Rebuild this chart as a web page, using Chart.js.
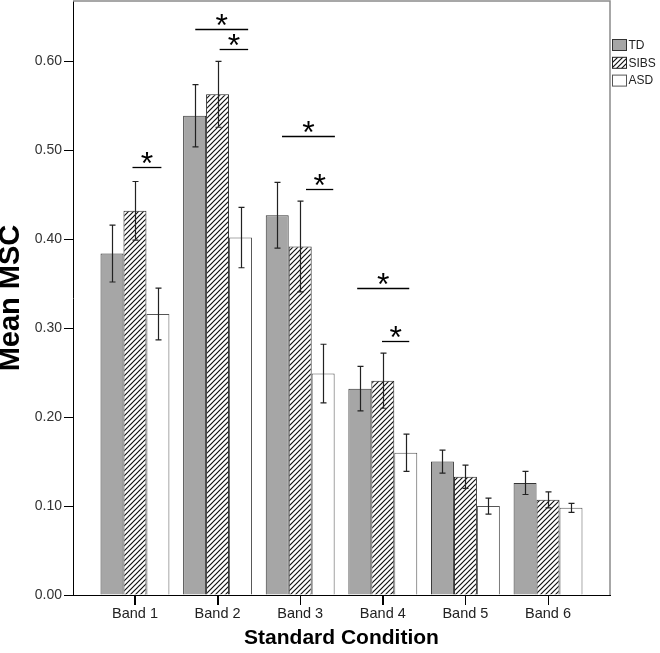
<!DOCTYPE html>
<html><head><meta charset="utf-8">
<style>html,body{margin:0;padding:0;background:#fff;}</style>
<script src="https://cdn.jsdelivr.net/npm/chart.js@4.4.1/dist/chart.umd.min.js"></script>
</head><body>
<canvas id="c" width="660" height="653"></canvas>
<script>
// ---------- data ----------
const categories = ['Band 1', 'Band 2', 'Band 3', 'Band 4', 'Band 5', 'Band 6'];
const seriesNames = ['TD', 'SIBS', 'ASD'];
const tdMean   = [0.384, 0.539, 0.427, 0.232, 0.150, 0.126];
const tdErr    = [0.032, 0.035, 0.037, 0.025, 0.013, 0.013];
const sibsMean = [0.432, 0.563, 0.392, 0.241, 0.133, 0.107];
const sibsErr  = [0.033, 0.037, 0.051, 0.031, 0.013, 0.009];
const asdMean  = [0.316, 0.402, 0.249, 0.160, 0.100, 0.098];
const asdErr   = [0.029, 0.034, 0.033, 0.021, 0.009, 0.005];
const yTickValues = [0.0, 0.1, 0.2, 0.3, 0.4, 0.5, 0.6];
const yTickLabels = ['0.00', '0.10', '0.20', '0.30', '0.40', '0.50', '0.60'];
// significance brackets: band index, start/end (in band units relative to band centre), level
const sigBand  = [0, 1, 1, 2, 2, 3, 3];
const sigFrom  = [-0.03, -0.27, 0.025, -0.22, 0.07, -0.31, -0.01];
const sigTo    = [0.32, 0.37, 0.37, 0.42, 0.40, 0.32, 0.32];
const sigLevel = [0.481, 0.637, 0.6145, 0.516, 0.457, 0.345, 0.286];
const sigMark  = '*';

// ---------- styles ----------
const FONT = "'Liberation Sans', Arial, sans-serif";
function hatchPattern() {
  const s = 5;
  const c = document.createElement('canvas');
  c.width = s; c.height = s;
  const g = c.getContext('2d');
  g.fillStyle = '#ffffff'; g.fillRect(0, 0, s, s);
  g.strokeStyle = '#111'; g.lineWidth = 1.2;
  g.beginPath();
  g.moveTo(0, s); g.lineTo(s, 0);
  g.moveTo(-1, 1); g.lineTo(1, -1);
  g.moveTo(s - 1, s + 1); g.lineTo(s + 1, s - 1);
  g.stroke();
  return document.getElementById('c').getContext('2d').createPattern(c, 'repeat');
}
const hatch = hatchPattern();
const fills = ['#a6a6a6', hatch, '#ffffff'];
const borders = ['#333333', '#222222', '#555555'];
const means = [tdMean, sibsMean, asdMean];
const errs = [tdErr, sibsErr, asdErr];

const datasets = seriesNames.map((name, i) => ({
  label: name,
  data: means[i].map((v, k) => ({ x: k + 1, y: v })),
  errors: errs[i],
  backgroundColor: fills[i],
  borderColor: borders[i],
  borderWidth: 1,
  borderSkipped: 'bottom',
  barPercentage: 1.0,
  categoryPercentage: 0.834,
}));

// ---------- plugins ----------
function drawXTicks(chart) {
  const ctx = chart.ctx, a = chart.chartArea, xs = chart.scales.x;
  ctx.save();
  ctx.fillStyle = '#000';
  for (let i = 0; i < categories.length; i++) {
    const px = Math.round(xs.getPixelForValue(i + 1));
    ctx.fillRect(px, Math.round(a.bottom), 1, 10);
  }
  ctx.restore();
}

const errorBars = {
  id: 'errorBars',
  afterDatasetsDraw(chart) {
    const ctx = chart.ctx, y = chart.scales.y;
    ctx.save();
    ctx.strokeStyle = '#222'; ctx.lineWidth = 1.2;
    chart.data.datasets.forEach((ds, di) => {
      const meta = chart.getDatasetMeta(di);
      meta.data.forEach((bar, k) => {
        const m = ds.data[k].y, e = ds.errors[k];
        const x = Math.round(bar.x) + 0.5;
        const yt = y.getPixelForValue(m + e), yb = y.getPixelForValue(m - e);
        ctx.beginPath();
        ctx.moveTo(x, yt); ctx.lineTo(x, yb);
        ctx.moveTo(x - 3, yt); ctx.lineTo(x + 3, yt);
        ctx.moveTo(x - 3, yb); ctx.lineTo(x + 3, yb);
        ctx.stroke();
      });
    });
    ctx.restore();
    drawXTicks(chart);
  }
};

const significance = {
  id: 'significance',
  afterDatasetsDraw(chart) {
    const ctx = chart.ctx, xs = chart.scales.x, ys = chart.scales.y;
    ctx.save();
    ctx.strokeStyle = '#000'; ctx.fillStyle = '#000'; ctx.lineWidth = 1.3;
    ctx.font = '32px ' + FONT;
    ctx.textAlign = 'center'; ctx.textBaseline = 'alphabetic';
    const mt = ctx.measureText(sigMark);
    const glyphMid = (mt.actualBoundingBoxAscent - mt.actualBoundingBoxDescent) / 2;
    sigBand.forEach((b, i) => {
      const x1 = xs.getPixelForValue(b + 1 + sigFrom[i]);
      const x2 = xs.getPixelForValue(b + 1 + sigTo[i]);
      const yy = Math.round(ys.getPixelForValue(sigLevel[i])) + 0.5;
      ctx.beginPath(); ctx.moveTo(x1, yy); ctx.lineTo(x2, yy); ctx.stroke();
      ctx.fillText(sigMark, (x1 + x2) / 2, yy - 9.5 + glyphMid);
    });
    ctx.restore();
  }
};

const frame = {
  id: 'frame',
  afterDraw(chart) {
    const ctx = chart.ctx, a = chart.chartArea;
    drawXTicks(chart);
    ctx.save();
    ctx.strokeStyle = '#8a8a8a'; ctx.lineWidth = 1.5;
    ctx.beginPath();
    ctx.moveTo(a.left, a.top); ctx.lineTo(a.right, a.top); ctx.lineTo(a.right, a.bottom);
    ctx.stroke();
    // legend
    ctx.font = '12px ' + FONT;
    ctx.textAlign = 'left'; ctx.textBaseline = 'middle';
    chart.data.datasets.forEach((ds, i) => {
      const bx = a.right + 2.5, by = 39.5 + i * 17.8;
      ctx.fillStyle = ds.backgroundColor;
      ctx.fillRect(bx, by, 14, 11);
      ctx.strokeStyle = ds.borderColor; ctx.lineWidth = 1;
      ctx.strokeRect(bx, by, 14, 11);
      ctx.fillStyle = '#222';
      ctx.fillText(ds.label, bx + 16, by + 6);
    });
    ctx.restore();
  }
};

// ---------- chart ----------
new Chart(document.getElementById('c'), {
  type: 'bar',
  data: { datasets },
  options: {
    responsive: false,
    animation: false,
    devicePixelRatio: 1,
    layout: { padding: { top: 1, right: 50, left: 0, bottom: 0 } },
    plugins: { legend: { display: false }, tooltip: { enabled: false } },
    scales: {
      x: {
        type: 'linear',
        min: 0.25, max: 6.75,
        offset: false,
        afterFit(s) { s.height = 58; s.paddingLeft = 0; s.paddingRight = 0; },
        afterBuildTicks(s) { s.ticks = categories.map((c, i) => ({ value: i + 1 })); },
        ticks: {
          callback: (v) => categories[Math.round(v) - 1] || '',
          font: { family: FONT, size: 14.5 },
          color: '#222',
          maxRotation: 0, autoSkip: false, padding: 0,
        },
        grid: { offset: false, drawOnChartArea: false, drawTicks: true, tickLength: 10, color: '#000' },
        border: { color: '#000', width: 1 },
        title: {
          display: true, text: 'Standard Condition', color: '#000',
          font: { family: FONT, size: 21, weight: 'bold', lineHeight: 1.2 },
          padding: { top: 0, bottom: 2 },
        },
      },
      y: {
        min: 0, max: 0.668,
        afterFit(s) { s.width = 73; s.paddingTop = 0; s.paddingBottom = 0; },
        afterBuildTicks(s) { s.ticks = yTickValues.map(v => ({ value: v })); },
        ticks: {
          callback: (v) => yTickLabels[yTickValues.findIndex(t => Math.abs(t - v) < 1e-6)] ?? '',
          font: { family: FONT, size: 14 },
          color: '#333', padding: 2,
        },
        grid: { drawOnChartArea: false, drawTicks: true, tickLength: 9, color: '#000' },
        border: { color: '#000', width: 1 },
        title: {
          display: true, text: 'Mean MSC', color: '#000',
          font: { family: FONT, size: 29, weight: 'bold', lineHeight: 1.0 },
          padding: { top: -4, bottom: 0 },
        },
      },
    },
  },
  plugins: [errorBars, significance, frame],
});
</script>
</body></html>
